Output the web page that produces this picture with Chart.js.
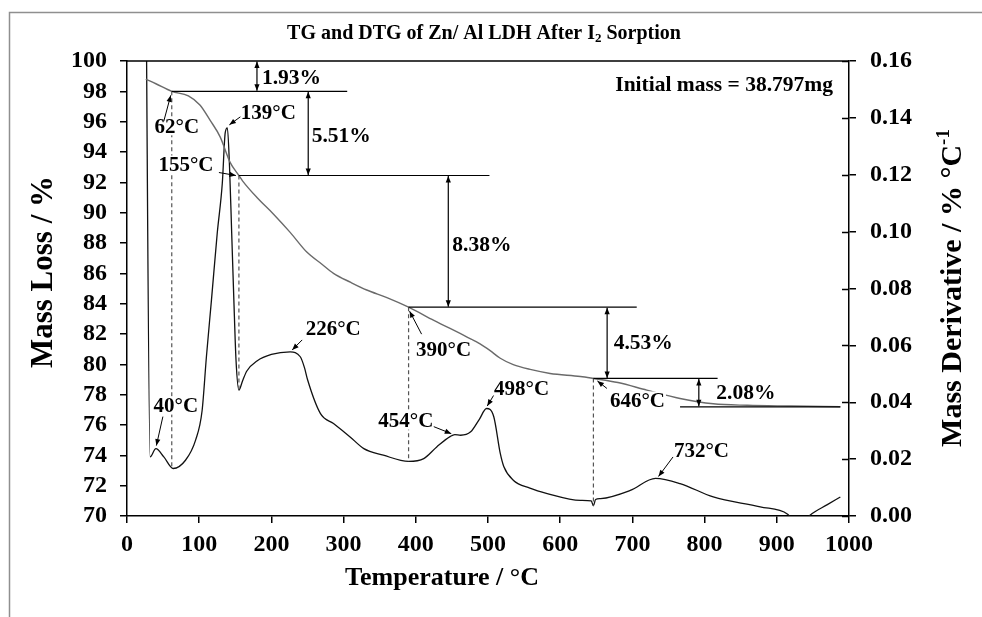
<!DOCTYPE html>
<html>
<head>
<meta charset="utf-8">
<title>TG and DTG of Zn/Al LDH after I2 sorption</title>
<script src="https://cdn.jsdelivr.net/npm/chart.js@4.4.1/dist/chart.umd.min.js"></script>
<style>
  html, body { margin: 0; padding: 0; background: #fff; }
  #wrap { width: 982px; height: 617px; }
</style>
</head>
<body>
<div id="wrap"><canvas id="tgChart" width="982" height="617"></canvas></div>
<script>
// TG curve (mass %, left axis)
const tgTemp = [26, 40, 62, 85, 101, 115, 129, 143, 155, 160, 180, 203, 226, 249, 270, 286, 310, 332, 360, 390,
  425, 471, 489, 503, 517, 535, 560, 586, 628, 646, 680, 720, 766, 812, 859, 920, 988];
const tgMass = [98.8, 98.5, 98.0, 97.7, 97.1, 96.1, 95.0, 93.3, 92.45, 92.1, 91.0, 89.9, 88.7, 87.4, 86.6, 86.0, 85.4, 84.9, 84.4, 83.77,
  82.9, 81.8, 81.35, 80.9, 80.4, 79.98, 79.65, 79.4, 79.2, 79.07, 78.8, 78.3, 77.75, 77.4, 77.3, 77.25, 77.2];

// DTG curve (% per °C, right axis)
const dtgTemp = [26, 32, 40, 51, 64, 81, 95, 104, 110, 117, 125, 132, 136, 139, 142, 145, 148, 151, 155, 160, 166,
  180, 200, 226, 240, 246, 250, 268, 286, 309, 328, 355, 390, 411, 429, 448, 454, 462, 476, 488, 498, 508, 517,
  522, 535, 558, 582, 628, 643, 646, 649, 656, 697, 732, 766, 812, 877, 915, 930, 946, 970, 988];
const dtgRate = [0.2, 0.0208, 0.0237, 0.0208, 0.0167, 0.0196, 0.0267, 0.037, 0.056, 0.076, 0.0995, 0.117, 0.1347, 0.1365, 0.1229, 0.0995, 0.076, 0.0548, 0.0443, 0.0475, 0.051,
  0.0545, 0.0568, 0.0577, 0.056, 0.052, 0.048, 0.036, 0.0325, 0.0278, 0.0237, 0.0214, 0.0192, 0.0202, 0.0243, 0.028, 0.0286, 0.0284, 0.0296, 0.034, 0.0378, 0.0349, 0.022,
  0.0173, 0.0126, 0.0098, 0.0079, 0.0055, 0.0053, 0.0036, 0.0058, 0.0061, 0.009, 0.0132, 0.0114, 0.0067, 0.0032, 0.0006, -0.004, 0.0003, 0.004, 0.0067];

// temperatures marked on the curves
const tgMarks = [62, 155, 390, 646];
const dtgPeaks = [40, 139, 226, 454, 498, 732];

// mass loss steps
const lossPct = ['1.93', '5.51', '8.38', '4.53', '2.08'];
const initialMass = '38.797';

const serif = "'Liberation Serif', 'Times New Roman', serif";

// label placement, px offsets from the marked point: text centre, arrow tail, arrow head
const markLayout = {
  tg62:   { tx: 5,   ty: 35,  ax: -8,  ay: 30,  bx: -1,   by: 4 },
  tg155:  { tx: -53, ty: -11, ax: -20, ay: -3,  bx: -3,   by: 0 },
  tg390:  { tx: 35,  ty: 42,  ax: 13,  ay: 27,  bx: 1,    by: 4 },
  tg646:  { tx: 44,  ty: 22,  ax: 13.5, ay: 10, bx: 4,    by: 2.5 },
  dtg40:  { tx: 20,  ty: -43, ax: 7,   ay: -32, bx: 0.5,  by: -3 },
  dtg139: { tx: 41,  ty: -15, ax: 13,  ay: -11, bx: 2,    by: -3 },
  dtg226: { tx: 43,  ty: -23, ax: 12,  ay: -12, bx: 2,    by: -2 },
  dtg454: { tx: -49, ty: -14, ax: -21, ay: -8,  bx: -3.5, by: -1 },
  dtg498: { tx: 35,  ty: -20, ax: 7,   ay: -13, bx: 0.7,  by: -2.5 },
  dtg732: { tx: 46,  ty: -28, ax: 17.5, ay: -21.5, bx: 3, by: -2 }
};
// horizontal step lines (°C span) and the arrow/label for each loss
const stepSpans = [[62, 305], [155, 502], [390, 706], [646, 818], [766, 988]];
const stepArrowAt = [180, 251, 445, 665, 792];
const stepTextOffset = [[5, 2], [3.5, 3], [4, 4.5], [6.5, 1], [17.5, 1]];

function interp(xs, ys, t) {
  for (let i = 1; i < xs.length; i++) {
    if (t <= xs[i]) {
      const f = (t - xs[i - 1]) / (xs[i] - xs[i - 1]);
      return ys[i - 1] + f * (ys[i] - ys[i - 1]);
    }
  }
  return ys[ys.length - 1];
}

function arrowHead(ctx, x1, y1, x2, y2, len) {
  const a = Math.atan2(y2 - y1, x2 - x1);
  ctx.beginPath();
  ctx.moveTo(x2, y2);
  ctx.lineTo(x2 - len * Math.cos(a - 0.38), y2 - len * Math.sin(a - 0.38));
  ctx.lineTo(x2 - len * Math.cos(a + 0.38), y2 - len * Math.sin(a + 0.38));
  ctx.closePath();
  ctx.fill();
}

function arrow(ctx, x1, y1, x2, y2, both) {
  ctx.beginPath();
  ctx.moveTo(x1, y1);
  ctx.lineTo(x2, y2);
  ctx.stroke();
  arrowHead(ctx, x1, y1, x2, y2, 7);
  if (both) arrowHead(ctx, x2, y2, x1, y1, 7);
}

// text made of pieces: [text, size, baseline shift]
function richText(ctx, parts, x, y, weight) {
  let w = 0;
  parts.forEach(p => { ctx.font = weight + ' ' + p[1] + 'px ' + serif; w += ctx.measureText(p[0]).width; });
  let cx = x - w / 2;
  ctx.textAlign = 'left';
  ctx.textBaseline = 'middle';
  parts.forEach(p => {
    ctx.font = weight + ' ' + p[1] + 'px ' + serif;
    ctx.fillText(p[0], cx, y + p[2]);
    cx += ctx.measureText(p[0]).width;
  });
}

const annotations = {
  id: 'tgAnnotations',
  afterDatasetsDraw(chart) {
    const ctx = chart.ctx;
    const xs = chart.scales.x, ys = chart.scales.y, ys1 = chart.scales.y1;
    const area = chart.chartArea;
    ctx.save();

    // outer frame
    ctx.strokeStyle = '#8f8f8f';
    ctx.lineWidth = 1.5;
    ctx.beginPath();
    ctx.moveTo(9.5, 617);
    ctx.lineTo(9.5, 12.5);
    ctx.lineTo(982, 12.5);
    ctx.stroke();

    // plot top edge and inner half of right-axis ticks
    ctx.strokeStyle = '#000';
    ctx.lineWidth = 1.5;
    ctx.beginPath();
    ctx.moveTo(area.left, area.top);
    ctx.lineTo(area.right, area.top);
    ys1.ticks.forEach(t => {
      const py = Math.round(ys1.getPixelForValue(t.value)) + 0.5;
      ctx.moveTo(area.right - 7, py);
      ctx.lineTo(area.right, py);
    });
    ctx.stroke();

    // dashed drop lines from TG marks to the DTG curve
    ctx.setLineDash([4, 3]);
    ctx.lineWidth = 1.2;
    ctx.strokeStyle = '#555';
    tgMarks.forEach(t => {
      const px = xs.getPixelForValue(t);
      ctx.beginPath();
      ctx.moveTo(px, ys.getPixelForValue(interp(tgTemp, tgMass, t)));
      ctx.lineTo(px, ys1.getPixelForValue(interp(dtgTemp, dtgRate, t)));
      ctx.stroke();
    });
    ctx.setLineDash([]);

    // step levels and loss arrows
    const levels = [100].concat(tgMarks.map(t => interp(tgTemp, tgMass, t)), [tgMass[tgMass.length - 1]]);
    ctx.strokeStyle = '#000';
    ctx.fillStyle = '#000';
    ctx.lineWidth = 1.2;
    stepSpans.forEach((s, i) => {
      const py = ys.getPixelForValue(levels[i + 1]);
      ctx.beginPath();
      ctx.moveTo(xs.getPixelForValue(s[0]), py);
      ctx.lineTo(xs.getPixelForValue(s[1]), py);
      ctx.stroke();
    });
    lossPct.forEach((pct, i) => {
      const px = xs.getPixelForValue(stepArrowAt[i]);
      const y0 = ys.getPixelForValue(levels[i]);
      const y1 = ys.getPixelForValue(levels[i + 1]);
      arrow(ctx, px, y0 + 0.5, px, y1 - 0.5, true);
      ctx.font = 'bold 21.5px ' + serif;
      ctx.textAlign = 'left';
      ctx.textBaseline = 'middle';
      ctx.fillText(pct + '%', px + stepTextOffset[i][0], (y0 + y1) / 2 + stepTextOffset[i][1]);
    });

    // temperature labels with pointer arrows
    const marks = tgMarks.map(t => ['tg' + t, t, ys.getPixelForValue(interp(tgTemp, tgMass, t))])
      .concat(dtgPeaks.map(t => ['dtg' + t, t, ys1.getPixelForValue(interp(dtgTemp, dtgRate, t))]));
    ctx.font = 'bold 21px ' + serif;
    marks.forEach(m => {
      const L = markLayout[m[0]];
      const px = xs.getPixelForValue(m[1]), py = m[2];
      const text = m[1] + '°C';
      const w = ctx.measureText(text).width;
      ctx.fillStyle = '#fff';
      ctx.fillRect(px + L.tx - w / 2 - 1, py + L.ty - 9, w + 2, 18);
      ctx.fillStyle = '#000';
      ctx.textAlign = 'center';
      ctx.textBaseline = 'middle';
      ctx.fillText(text, px + L.tx, py + L.ty + 1);
      ctx.lineWidth = 1;
      arrow(ctx, px + L.ax, py + L.ay, px + L.bx, py + L.by, false);
    });

    // titles
    ctx.fillStyle = '#000';
    ctx.textAlign = 'right';
    ctx.textBaseline = 'middle';
    ctx.font = 'bold 21.5px ' + serif;
    ctx.fillText('Initial mass = ' + initialMass + 'mg', 833, 85);

    richText(ctx, [['TG and DTG of Zn/ Al LDH After I', 20, 0], ['2', 13, 5], [' Sorption', 20, 0]], 484, 34, 'bold');
    richText(ctx, [['Temperature / °C', 26, 0]], 442, 578, 'bold');

    ctx.save();
    ctx.translate(44, 272);
    ctx.rotate(-Math.PI / 2);
    richText(ctx, [['Mass Loss / %', 31, 0]], 0, 0, 'bold');
    ctx.restore();

    ctx.save();
    ctx.translate(953, 288);
    ctx.rotate(-Math.PI / 2);
    richText(ctx, [['Mass Derivative / % °C', 30, 0], ['-1', 19, -9]], 0, 0, 'bold');
    ctx.restore();

    ctx.restore();
  }
};

const tickFont = { family: serif, size: 24, weight: 'bold' };

new Chart(document.getElementById('tgChart').getContext('2d'), {
  type: 'line',
  data: {
    datasets: [{
      label: 'TG',
      data: tgTemp.map((t, i) => ({ x: t, y: tgMass[i] })),
      yAxisID: 'y',
      borderColor: '#6a6a6a',
      borderWidth: 1.4,
      pointRadius: 0,
      cubicInterpolationMode: 'monotone'
    }, {
      label: 'DTG',
      data: dtgTemp.map((t, i) => ({ x: t, y: dtgRate[i] })),
      yAxisID: 'y1',
      borderColor: '#111',
      borderWidth: 1.3,
      pointRadius: 0,
      cubicInterpolationMode: 'monotone'
    }]
  },
  options: {
    responsive: false,
    animation: false,
    devicePixelRatio: 1,
    layout: { padding: { top: 61, left: 0, right: 0, bottom: 0 } },
    plugins: { legend: { display: false }, tooltip: { enabled: false } },
    scales: {
      x: {
        type: 'linear', min: 0, max: 1000,
        ticks: { stepSize: 100, autoSkip: false, font: tickFont, color: '#000', padding: 7, maxRotation: 0, callback: v => v },
        grid: { drawOnChartArea: false, tickLength: 7, color: '#000', lineWidth: 1.5 },
        border: { color: '#000', width: 1.5 },
        afterFit: s => { s.height = 101; }
      },
      y: {
        position: 'left', min: 70, max: 100,
        ticks: { stepSize: 2, autoSkip: false, font: tickFont, color: '#000', padding: 13 },
        grid: { drawOnChartArea: false, tickLength: 7, color: '#000', lineWidth: 1.5 },
        border: { color: '#000', width: 1.5 },
        afterFit: s => { s.width = 127; }
      },
      y1: {
        position: 'right', min: 0, max: 0.16,
        ticks: { stepSize: 0.02, autoSkip: false, font: tickFont, color: '#000', padding: 14, callback: v => v.toFixed(2) },
        grid: { drawOnChartArea: false, tickLength: 7, color: '#000', lineWidth: 1.5 },
        border: { color: '#000', width: 1.5 },
        afterFit: s => { s.width = 133; }
      }
    }
  },
  plugins: [annotations]
});
</script>
</body>
</html>
